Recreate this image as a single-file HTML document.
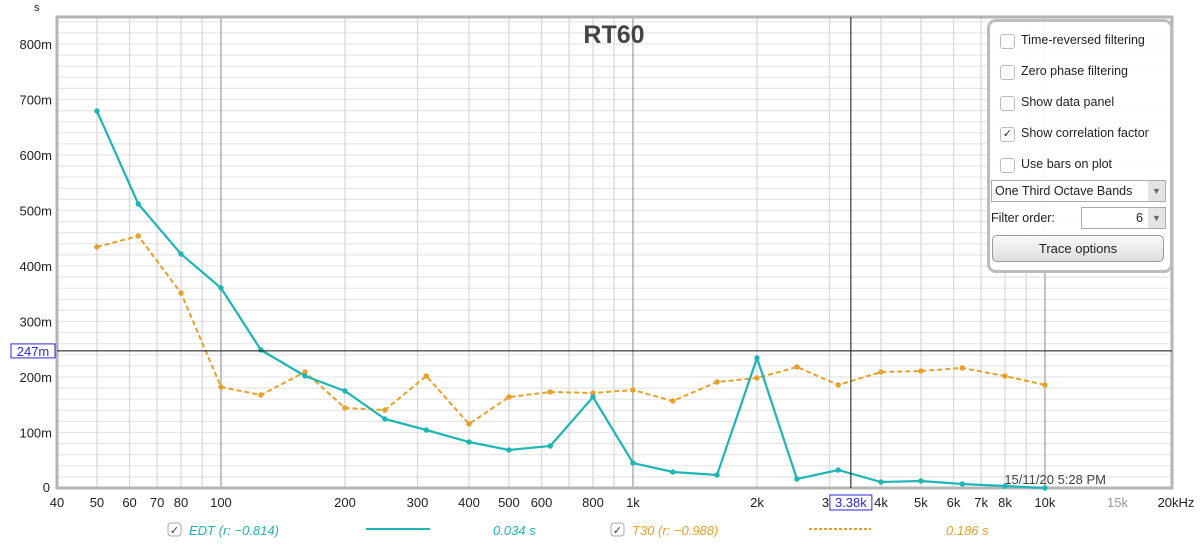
<!DOCTYPE html><html><head><meta charset="utf-8"><style>
body{margin:0;width:1200px;height:548px;background:#fff;font-family:"Liberation Sans",sans-serif;overflow:hidden;position:relative}
svg{position:absolute;left:0;top:0}
.panel{position:absolute;left:987px;top:19px;width:180px;height:248px;border:3px solid #bdbdbd;border-radius:9px;background:rgba(255,255,255,0.93);font-size:12.5px;color:#222}
.cb{position:absolute;left:10px;width:13px;height:13px;border:1px solid #bbb;border-radius:3px;background:#fff}
.lbl{position:absolute;left:31px}
</style></head><body>
<svg id="s" width="1200" height="548"></svg>
<div class="panel">
<div class="cb" style="top:12px"></div><div class="lbl" style="top:11px">Time-reversed filtering</div>
<div class="cb" style="top:43px"></div><div class="lbl" style="top:42px">Zero phase filtering</div>
<div class="cb" style="top:74px"></div><div class="lbl" style="top:73px">Show data panel</div>
<div class="cb" style="top:105px;font-size:11px;line-height:13px;text-align:center">✓</div><div class="lbl" style="top:104px">Show correlation factor</div>
<div class="cb" style="top:136px"></div><div class="lbl" style="top:135px">Use bars on plot</div>
<div style="position:absolute;left:1px;top:158px;width:173px;height:20px;border:1px solid #aaa;background:#fff"><span style="position:absolute;left:3px;top:3px">One Third Octave Bands</span><span style="position:absolute;right:0;top:0;width:17px;height:20px;background:#e4e4e4;font-size:9px;text-align:center;line-height:20px;color:#666">▼</span></div>
<div style="position:absolute;left:1px;top:189px">Filter order:</div>
<div style="position:absolute;left:91px;top:185px;width:83px;height:20px;border:1px solid #aaa;background:#fff"><span style="position:absolute;right:22px;top:3px">6</span><span style="position:absolute;right:0;top:0;width:17px;height:20px;background:#e4e4e4;font-size:9px;text-align:center;line-height:20px;color:#666">▼</span></div>
<div style="position:absolute;left:2px;top:213px;width:170px;height:25px;border:1px solid #999;border-radius:5px;background:linear-gradient(#fafafa,#ddd);text-align:center;line-height:25px;font-size:13px">Trace options</div>
</div>
<script>
const s=document.getElementById('s');let h='';
const L=57,R=1172,T=17,B=488;
const X=f=>57+(Math.log10(f)-Math.log10(40))*412;
const Y=v=>488-v*0.555;
for(let v=20;v<=840;v+=20){h+=`<line x1="${L}" x2="${R}" y1="${Y(v)}" y2="${Y(v)}" stroke="#e6e6e6" stroke-width="1.2"/>`;}
let fs=[];for(let d of [10,100,1000,10000])for(let m=1;m<10;m++){let f=d*m;if(f>40&&f<20000)fs.push(f);}
fs.forEach(f=>{let maj=(f==100||f==1000||f==10000);h+=`<line x1="${X(f)}" x2="${X(f)}" y1="${T}" y2="${B}" stroke="${maj?'#aaa':'#d8d8d8'}" stroke-width="${maj?1.4:1.2}"/>`;});
h+=`<rect x="${L}" y="${T}" width="${R-L}" height="${B-T}" fill="none" stroke="#b5b5b5" stroke-width="3"/>`;
h+=`<text x="34" y="11" font-size="11" fill="#222">s</text>`;
for(let v=100;v<=800;v+=100)h+=`<text x="52" y="${Y(v)+5}" font-size="13" text-anchor="end" fill="#222">${v}m</text>`;
h+=`<text x="50" y="${B+4}" font-size="13" text-anchor="end" fill="#222">0</text>`;
[[40,'40'],[50,'50'],[60,'60'],[70,'70'],[80,'80'],[100,'100'],[200,'200'],[300,'300'],[400,'400'],[500,'500'],[600,'600'],[800,'800'],[1000,'1k'],[2000,'2k'],[3000,'3'],[4000,'4k'],[5000,'5k'],[6000,'6k'],[7000,'7k'],[8000,'8k'],[10000,'10k']].forEach(([f,t])=>h+=`<text x="${X(f)+(f==3000?-4:0)}" y="507" font-size="13" text-anchor="middle" fill="#222">${t}</text>`);
h+=`<text x="${X(15000)}" y="507" font-size="13" text-anchor="middle" fill="#999">15k</text><text x="1176" y="507" font-size="13" text-anchor="middle" fill="#222">20kHz</text>`;
h+=`<text x="614" y="43" font-size="25" font-weight="bold" text-anchor="middle" fill="#444">RT60</text>`;
h+=`<text x="1106" y="484" font-size="13" text-anchor="end" fill="#444">15/11/20 5:28 PM</text>`;
const F=[50,63,80,100,125,160,200,250,315,400,500,630,800,1000,1250,1600,2000,2500,3150,4000,5000,6300,8000,10000];
const E=[111,204,254,288,350,376,391,419,430,442,450,446,397,463,472,475,358,479,470,482,481,484,486,488];
const Tt=[247,236,293,387,395,372,408,410,376,424,397,392,393,390,401,382,378,367,385,372,371,368,376,385];
const pts=a=>F.map((f,i)=>X(f).toFixed(1)+','+a[i]).join(' ');
h+=`<polyline points="${pts(Tt)}" fill="none" stroke="#e8a02a" stroke-width="2" stroke-dasharray="5,3"/>`;
h+=`<polyline points="${pts(E)}" fill="none" stroke="#1fb5b5" stroke-width="2.2"/>`;
F.forEach((f,i)=>{h+=`<circle cx="${X(f)}" cy="${Tt[i]}" r="2.7" fill="#e8a02a"/><circle cx="${X(f)}" cy="${E[i]}" r="2.7" fill="#1fb5b5"/>`;});
const cx=X(3380),cy=Y(247);
h+=`<line x1="${cx}" x2="${cx}" y1="${T}" y2="${B}" stroke="#111"/><line x1="${L}" x2="${R}" y1="${cy}" y2="${cy}" stroke="#111"/>`;
h+=`<rect x="11" y="${cy-7}" width="44" height="14" fill="#fff" stroke="#2a2ae0"/><text x="33" y="${cy+5}" font-size="13" text-anchor="middle" fill="#2a2ae0">247m</text>`;
h+=`<rect x="${cx-21}" y="495" width="42" height="15" fill="#fff" stroke="#2a2ae0"/><text x="${cx}" y="507" font-size="13" text-anchor="middle" fill="#2a2ae0">3.38k</text>`;
h+=`<rect x="168" y="523" width="13" height="13" rx="3" fill="#fff" stroke="#aaa"/><text x="174.5" y="534" font-size="11" text-anchor="middle" fill="#333">✓</text>`;
h+=`<text x="189" y="535" font-size="13" font-style="italic" fill="#1fb5b5">EDT (r: −0.814)</text>`;
h+=`<line x1="366" x2="430" y1="529" y2="529" stroke="#1fb5b5" stroke-width="2"/>`;
h+=`<text x="493" y="535" font-size="13" font-style="italic" fill="#1fb5b5">0.034 s</text>`;
h+=`<rect x="611" y="523" width="13" height="13" rx="3" fill="#fff" stroke="#aaa"/><text x="617.5" y="534" font-size="11" text-anchor="middle" fill="#333">✓</text>`;
h+=`<text x="632" y="535" font-size="13" font-style="italic" fill="#e8a02a">T30 (r: −0.988)</text>`;
h+=`<line x1="809" x2="871" y1="529" y2="529" stroke="#e8a02a" stroke-width="2" stroke-dasharray="3,2"/>`;
h+=`<text x="946" y="535" font-size="13" font-style="italic" fill="#e8a02a">0.186 s</text>`;
s.innerHTML=h;
</script>
</body></html>
